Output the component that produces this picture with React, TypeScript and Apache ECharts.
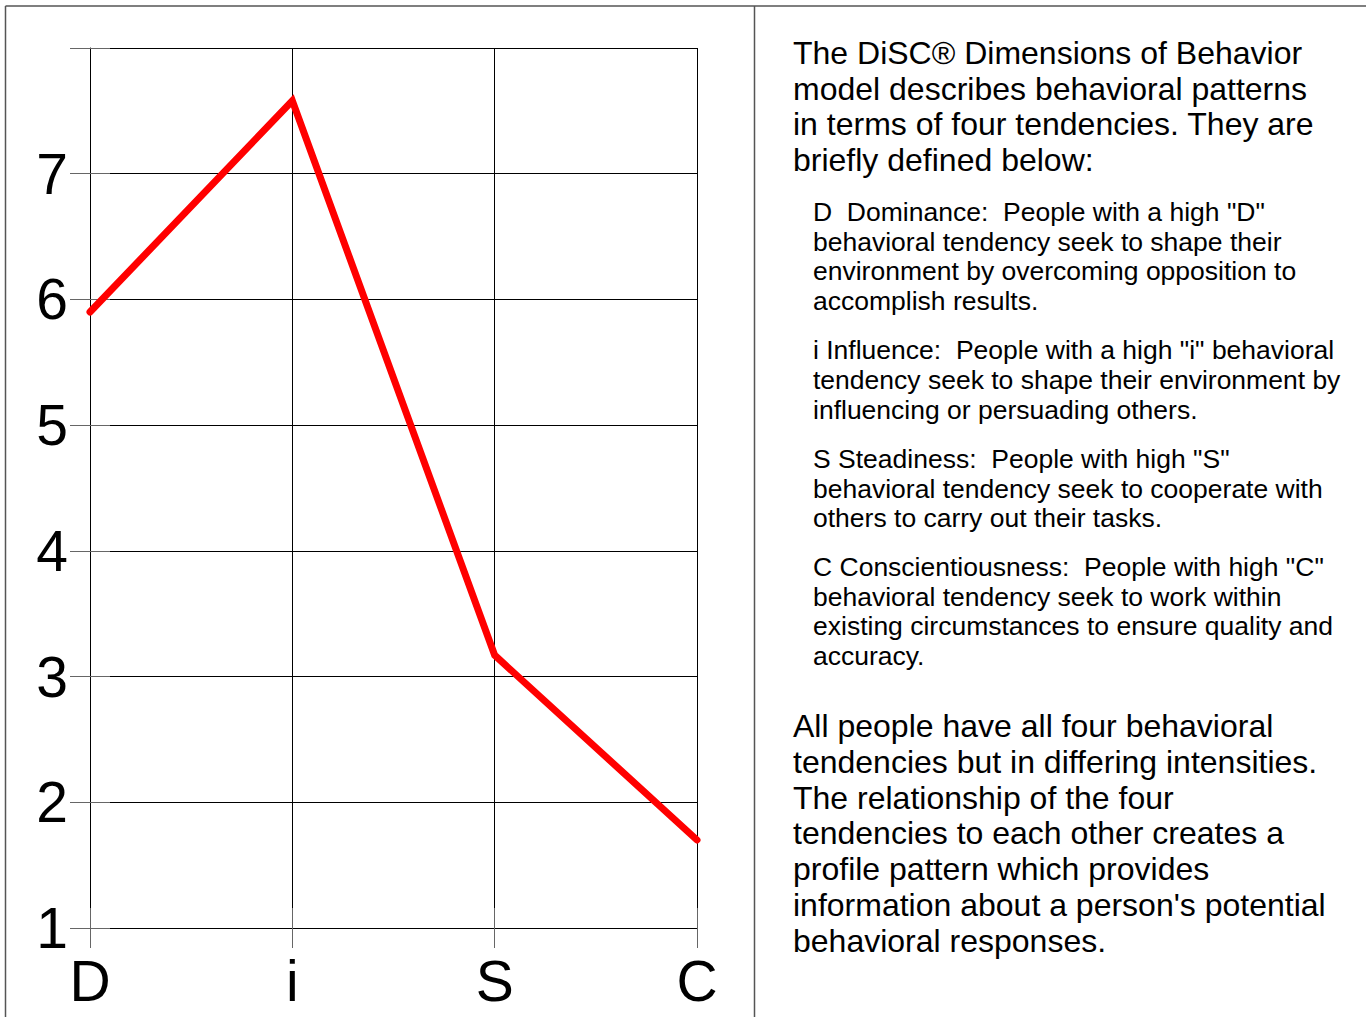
import React, { useEffect, useRef } from "react";
import * as echarts from "echarts";

const categories = ["D", "i", "S", "C"];
const scores = [5.9, 7.58, 3.17, 1.7];
const yMin = 1;
const yMax = 8;
const yStep = 1;

const titleLines = [
  "The DiSC® Dimensions of Behavior",
  "model describes behavioral patterns",
  "in terms of four tendencies. They are",
  "briefly defined below:",
];
const defD = [
  'D  Dominance:  People with a high "D"',
  "behavioral tendency seek to shape their",
  "environment by overcoming opposition to",
  "accomplish results.",
];
const defI = [
  'i Influence:  People with a high "i" behavioral',
  "tendency seek to shape their environment by",
  "influencing or persuading others.",
];
const defS = [
  'S Steadiness:  People with high "S"',
  "behavioral tendency seek to cooperate with",
  "others to carry out their tasks.",
];
const defC = [
  'C Conscientiousness:  People with high "C"',
  "behavioral tendency seek to work within",
  "existing circumstances to ensure quality and",
  "accuracy.",
];
const closingLines = [
  "All people have all four behavioral",
  "tendencies but in differing intensities.",
  "The relationship of the four",
  "tendencies to each other creates a",
  "profile pattern which provides",
  "information about a person's potential",
  "behavioral responses.",
];

const FONT = "'Liberation Sans', Arial, Helvetica, sans-serif";

function para(lines: string[], x: number, yCenterFirst: number, fontSize: number, lh: number) {
  return {
    type: "text",
    x,
    y: yCenterFirst - lh / 2,
    style: {
      text: lines.join("\n"),
      fontSize,
      lineHeight: lh,
      fontFamily: FONT,
      fill: "#000",
      verticalAlign: "top",
      align: "left",
    },
  };
}

export default function App() {
  const ref = useRef<HTMLDivElement>(null);
  useEffect(() => {
    if (!ref.current) return;
    const chart = echarts.init(ref.current, null, { renderer: "svg" });
    const labelStyle = { fontSize: 57, color: "#000", fontFamily: FONT };
    chart.setOption({
      animation: false,
      backgroundColor: "#fff",
      grid: { left: 90, top: 48, width: 607, height: 880 },
      xAxis: [
        {
          type: "category",
          data: categories,
          boundaryGap: false,
          axisLine: { show: true, lineStyle: { color: "#000", width: 1 } },
          axisTick: { show: true, inside: false, length: 20, lineStyle: { color: "#666" } },
          splitLine: { show: true, lineStyle: { color: "#000", width: 1 } },
          axisLabel: { ...labelStyle, margin: 24 },
        },
        {
          type: "category",
          data: categories,
          boundaryGap: false,
          position: "bottom",
          axisLine: { show: false },
          axisTick: { show: true, inside: true, length: 20, lineStyle: { color: "#666" } },
          splitLine: { show: false },
          axisLabel: { show: false },
        },
      ],
      yAxis: [
        {
          type: "value",
          min: yMin,
          max: yMax,
          interval: yStep,
          axisLine: { show: true, lineStyle: { color: "#000", width: 1 } },
          axisTick: { show: true, inside: false, length: 20, lineStyle: { color: "#666" } },
          splitLine: { show: true, lineStyle: { color: "#000", width: 1 } },
          axisLabel: {
            ...labelStyle,
            margin: 22,
            formatter: (v: number) => (v === yMax ? "" : String(v)),
          },
        },
        {
          type: "value",
          min: yMin,
          max: yMax,
          interval: yStep,
          position: "left",
          axisLine: { show: false },
          axisTick: { show: true, inside: true, length: 20, lineStyle: { color: "#666" } },
          splitLine: { show: false },
          axisLabel: { show: false },
        },
      ],
      series: [
        {
          type: "line",
          data: scores,
          xAxisIndex: 0,
          yAxisIndex: 0,
          symbol: "none",
          lineStyle: { color: "#ff0000", width: 7, cap: "round", join: "miter" },
          z: 5,
        },
      ],
      graphic: [
        { type: "line", shape: { x1: 5.5, y1: 6, x2: 1366, y2: 6 }, style: { stroke: "#555", lineWidth: 1.5 } },
        { type: "line", shape: { x1: 5.5, y1: 6, x2: 5.5, y2: 1017 }, style: { stroke: "#555", lineWidth: 1.5 } },
        { type: "line", shape: { x1: 754.5, y1: 6, x2: 754.5, y2: 1017 }, style: { stroke: "#555", lineWidth: 1.5 } },
        para(titleLines, 793, 53, 32, 35.7),
        para(defD, 813, 212, 26.5, 29.7),
        para(defI, 813, 350, 26.5, 29.9),
        para(defS, 813, 459, 26.5, 29.7),
        para(defC, 813, 567, 26.5, 29.7),
        para(closingLines, 793, 726, 32, 35.8),
      ],
    });
    return () => chart.dispose();
  }, []);
  return (
    <div
      ref={ref}
      style={{ position: "absolute", left: 0, top: 0, width: 1366, height: 1017 }}
    />
  );
}
